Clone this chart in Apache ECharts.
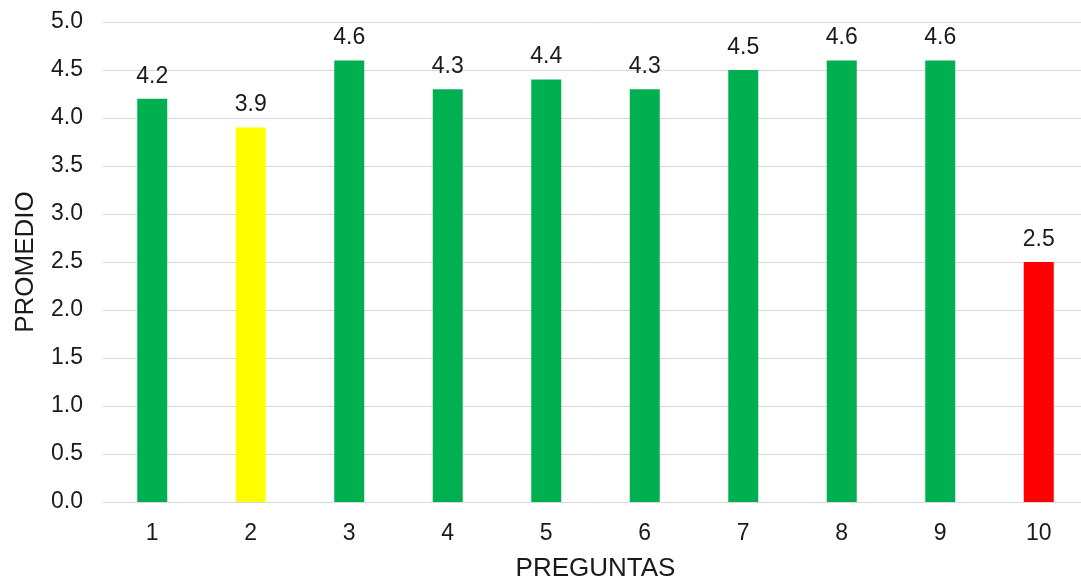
<!DOCTYPE html>
<html>
<head>
<meta charset="utf-8">
<style>
  html, body { margin: 0; padding: 0; background: #fff; }
  #chart { width: 1081px; height: 579px; }
</style>
<script src="https://cdn.jsdelivr.net/npm/echarts@6/dist/echarts.min.js"></script>
</head>
<body>
<div id="chart"></div>
<script>
// Average score per question
const preguntas = ['1', '2', '3', '4', '5', '6', '7', '8', '9', '10'];
const promedios = [4.2, 3.9, 4.6, 4.3, 4.4, 4.3, 4.5, 4.6, 4.6, 2.5];
const colores = ['#00B050', '#FFFF00', '#00B050', '#00B050', '#00B050', '#00B050', '#00B050', '#00B050', '#00B050', '#FF0000'];

const font = '"Liberation Sans", Arial, sans-serif';
const textColor = '#1a1a1a';
const chart = echarts.init(document.getElementById('chart'));

chart.setOption({
  animation: false,
  backgroundColor: '#ffffff',
  grid: { left: 103, top: 22, width: 985, height: 480, outerBoundsMode: 'none' },
  xAxis: {
    type: 'category',
    data: preguntas,
    name: 'PREGUNTAS',
    nameLocation: 'middle',
    nameGap: 54,
    nameTextStyle: { fontFamily: font, fontSize: 26, color: textColor },
    axisLine: { show: false },
    axisTick: { show: false },
    axisLabel: { fontFamily: font, fontSize: 23, color: textColor, margin: 20 }
  },
  yAxis: {
    type: 'value',
    min: 0,
    max: 5,
    interval: 0.5,
    name: 'PROMEDIO',
    nameLocation: 'middle',
    nameGap: 64,
    nameTextStyle: { fontFamily: font, fontSize: 26, color: textColor },
    axisLine: { show: false },
    axisTick: { show: false },
    axisLabel: {
      fontFamily: font, fontSize: 23, color: textColor, margin: 20,
      formatter: v => v.toFixed(1)
    },
    splitLine: { lineStyle: { color: '#d9d9d9', width: 1 } }
  },
  series: [{
    type: 'bar',
    barWidth: 30,
    data: promedios.map((v, i) => ({ value: v, itemStyle: { color: colores[i] } })),
    label: {
      show: true,
      position: 'top',
      distance: 11,
      fontFamily: font,
      fontSize: 23,
      color: textColor,
      formatter: p => p.value.toFixed(1)
    }
  }]
});
</script>
</body>
</html>
